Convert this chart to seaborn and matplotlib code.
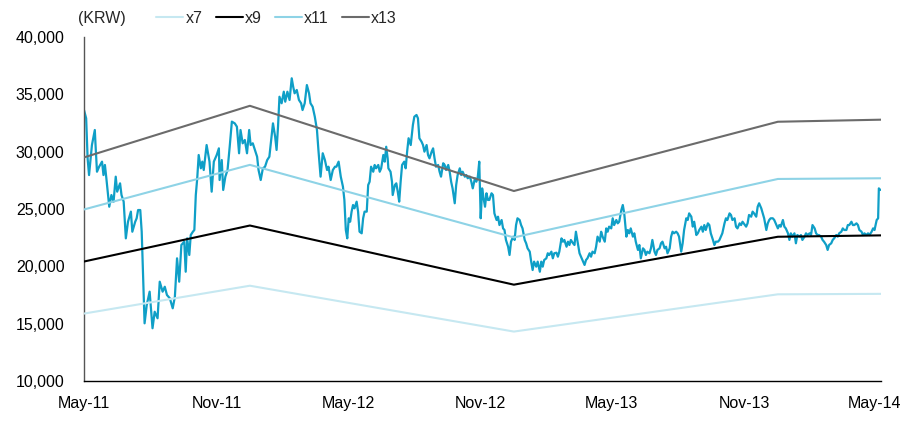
import pandas as pd
import matplotlib
matplotlib.use('Agg')
import matplotlib.pyplot as plt
import matplotlib.dates as mdates
from matplotlib.ticker import FuncFormatter
import seaborn as sns

# PER band lines (KRW) at the EPS change dates
band_dates = ['2011-05-01', '2011-12-17', '2012-12-17', '2013-12-18', '2014-05-10']
x7 = [15880, 18310, 14310, 17560, 17600]
x9 = [20420, 23560, 18400, 22580, 22700]
x11 = [24960, 28850, 22520, 27620, 27680]
x13 = [29500, 34000, 26570, 32610, 32790]
band_names = ['x7', 'x9', 'x11', 'x13']
band_colors = ['#c6e8f1', '#000000', '#8ed3e6', '#6b6b6b']

# share price: (days since 2011-05-01, close in KRW)
start_date = '2011-05-01'
price_points = [
    (0, 33630), (3, 32910), (5, 29420), (7, 27960), (11, 30580), (15, 31890), (16, 30580),
    (18, 28250), (21, 28690), (25, 29130), (27, 27960), (29, 28840), (31, 27680), (35, 25200),
    (38, 26220), (41, 25640), (44, 27820), (46, 26510), (50, 27240), (52, 26220), (55, 25640),
    (58, 22440), (61, 23890), (65, 24770), (67, 23020), (71, 23890), (73, 24190), (75, 24910),
    (78, 24910), (80, 23020), (82, 18960), (84, 15030), (87, 16630), (91, 17790), (95, 14600),
    (98, 16040), (102, 15470), (105, 18660), (109, 17790), (112, 18220), (115, 17500),
    (119, 17210), (123, 16340), (126, 17350), (129, 20700), (132, 18660), (135, 21860),
    (139, 22150), (141, 19530), (143, 22440), (146, 20990), (148, 22730), (151, 23020),
    (153, 23170), (155, 26220), (157, 27680), (159, 29710), (162, 28550), (164, 29130),
    (166, 28400), (170, 30580), (174, 29130), (177, 26510), (180, 29130), (184, 29710),
    (187, 30290), (188, 27530), (191, 29270), (193, 26660), (196, 27820), (199, 28400),
    (202, 30430), (205, 32620), (209, 32470), (212, 32180), (215, 29860), (217, 31890),
    (220, 30730), (223, 31020), (226, 29860), (229, 31890), (231, 30580), (234, 30730),
    (237, 30150), (240, 29560), (242, 28400), (245, 27530), (248, 28550), (251, 28690),
    (254, 29270), (257, 29560), (260, 31310), (262, 32470), (265, 31310), (267, 30150),
    (269, 32180), (271, 34790), (274, 34220), (277, 35230), (279, 34360), (282, 35230),
    (285, 34510), (288, 36400), (290, 35670), (292, 35090), (295, 35380), (298, 34510),
    (301, 34220), (303, 33630), (306, 34220), (309, 35810), (312, 35090), (314, 34220),
    (317, 33920), (320, 33050), (323, 31890), (325, 30150), (328, 27820), (331, 29860),
    (334, 29270), (337, 28400), (339, 28690), (342, 27530), (345, 28400), (348, 28690),
    (350, 28690), (353, 29130), (356, 27820), (359, 26950), (361, 25790), (363, 23170),
    (365, 22440), (367, 24190), (369, 23890), (371, 24770), (373, 25350), (375, 25060),
    (378, 25640), (380, 24770), (382, 23020), (385, 22880), (387, 24190), (389, 24770),
    (392, 24770), (394, 27090), (396, 27380), (398, 28690), (401, 28250), (403, 28840),
    (405, 28550), (408, 28840), (410, 28250), (412, 28550), (415, 29710), (417, 29130),
    (419, 30430), (421, 29420), (422, 28550), (425, 28250), (427, 27380), (428, 26220),
    (431, 27090), (433, 27240), (435, 26510), (437, 25640), (439, 27380), (441, 28840),
    (444, 29130), (446, 28550), (448, 30000), (450, 31170), (453, 30580), (456, 32330),
    (458, 33050), (461, 33200), (463, 32910), (465, 31170), (468, 30870), (470, 30580),
    (472, 30000), (475, 30580), (477, 29710), (479, 29420), (482, 30000), (484, 30290),
    (486, 29420), (488, 28690), (491, 28840), (493, 28250), (495, 27820), (498, 28990),
    (500, 28840), (502, 28400), (505, 28840), (507, 28250), (509, 27380), (511, 26800),
    (514, 25500), (516, 27090), (518, 27960), (521, 28550), (523, 27960), (525, 28250),
    (528, 27820), (530, 27960), (532, 27680), (535, 27820), (537, 27380), (539, 26800),
    (542, 27680), (544, 27380), (546, 27820), (548, 29130), (550, 24190), (552, 26800),
    (554, 25930), (556, 25200), (558, 26370), (560, 25790), (562, 25790), (565, 26370),
    (567, 26220), (569, 24620), (572, 24040), (574, 24330), (576, 23600), (579, 24040),
    (581, 23310), (583, 23170), (585, 22300), (588, 21710), (590, 20990), (592, 22150),
    (595, 22590), (597, 22300), (599, 23600), (601, 24190), (604, 24040), (606, 23600),
    (608, 23310), (611, 22300), (613, 22010), (615, 21570), (618, 21280), (620, 20410),
    (622, 19680), (624, 20410), (627, 19970), (629, 20410), (632, 19530), (634, 20410),
    (636, 19970), (638, 20550), (641, 20700), (643, 21140), (645, 20990), (648, 21280),
    (650, 20700), (652, 21140), (655, 21190), (657, 20840), (659, 21280), (662, 22440),
    (664, 22150), (666, 22300), (669, 21710), (671, 22150), (673, 21860), (675, 22300),
    (678, 22010), (680, 21860), (682, 23020), (685, 21860), (687, 21140), (689, 20840),
    (692, 20410), (694, 20120), (696, 20550), (698, 20700), (701, 21140), (703, 20840),
    (705, 21280), (708, 21140), (710, 21710), (712, 22590), (715, 22150), (717, 23020),
    (719, 22590), (722, 22150), (724, 23310), (726, 23020), (728, 23460), (731, 23310),
    (733, 24190), (735, 23600), (738, 24040), (740, 23750), (742, 23890), (745, 24910),
    (747, 25350), (749, 24620), (752, 22590), (754, 23170), (756, 22880), (758, 23310),
    (761, 22590), (763, 22880), (765, 22150), (768, 21430), (770, 21860), (772, 20700),
    (775, 21570), (777, 21430), (779, 20990), (781, 21280), (784, 21140), (786, 21570),
    (788, 22300), (791, 21280), (793, 20990), (795, 21430), (798, 21570), (800, 22010),
    (802, 22150), (805, 21570), (807, 21710), (809, 21140), (812, 21570), (814, 22590),
    (816, 23020), (818, 22880), (821, 23020), (823, 22880), (825, 22590), (828, 21280),
    (830, 22010), (832, 23170), (835, 24190), (837, 24040), (839, 24620), (842, 24330),
    (844, 23460), (846, 23890), (849, 22730), (851, 22880), (853, 23170), (856, 23460),
    (858, 23020), (860, 23600), (862, 23170), (865, 23750), (867, 23600), (869, 22880),
    (872, 22300), (874, 21860), (876, 22150), (879, 22150), (881, 22300), (883, 22590),
    (885, 22880), (888, 23750), (890, 24190), (892, 24040), (895, 24620), (897, 24480),
    (899, 24040), (902, 24190), (904, 23460), (906, 23310), (909, 23750), (911, 23600),
    (913, 23890), (918, 23460), (920, 23750), (922, 24480), (925, 24330), (927, 24770),
    (929, 24620), (932, 24330), (934, 25200), (936, 25500), (939, 25060), (941, 24620),
    (943, 24190), (946, 23170), (948, 23750), (950, 24040), (952, 24190), (955, 24190),
    (957, 24040), (959, 23750), (962, 23310), (964, 23600), (966, 23460), (969, 24040),
    (971, 23460), (973, 23310), (976, 22880), (978, 22300), (980, 22880), (982, 22590),
    (985, 22880), (987, 22010), (989, 22730), (992, 22590), (994, 22730), (996, 22300),
    (999, 22590), (1001, 22880), (1003, 22730), (1006, 22880), (1008, 22730), (1010, 23600),
    (1013, 23310), (1015, 22880), (1017, 22730), (1019, 22730), (1022, 22590), (1024, 22300),
    (1026, 22150), (1029, 21860), (1031, 21430), (1033, 21860), (1036, 22010), (1038, 22300),
    (1040, 22440), (1043, 22730), (1045, 22590), (1047, 22880), (1050, 23020), (1052, 23310),
    (1054, 23170), (1057, 23170), (1059, 23600), (1061, 23600), (1064, 23890), (1066, 23600),
    (1068, 23600), (1071, 23750), (1073, 23600), (1075, 23170), (1078, 23020), (1080, 22730),
    (1082, 22880), (1085, 22730), (1087, 22880), (1089, 22730), (1092, 23020), (1094, 23310),
    (1096, 23170), (1099, 24040), (1101, 24190), (1102, 26800), (1104, 26660),
]
price_color = '#0f9fc7'
x_ticks = pd.date_range('2011-05-01', '2014-05-01', freq='6MS')
y_ticks = [10000, 15000, 20000, 25000, 30000, 35000, 40000]

sns.set_style('white')
plt.rcParams['font.family'] = ['Liberation Sans', 'DejaVu Sans']
plt.rcParams['font.size'] = 11.5

# tidy frames for seaborn
price_df = pd.DataFrame(price_points, columns=['day', 'price'])
price_df['date'] = pd.Timestamp(start_date) + pd.to_timedelta(price_df['day'], unit='D')

bands = pd.DataFrame({'date': pd.to_datetime(band_dates), 'x7': x7, 'x9': x9, 'x11': x11, 'x13': x13})
bands_long = bands.melt(id_vars='date', var_name='band', value_name='value')

fig = plt.figure(figsize=(9.16, 4.23), dpi=100)
ax = fig.add_axes([0.0917, 0.0993, 0.8701, 0.8132])

sns.lineplot(data=price_df, x='date', y='price', color=price_color, linewidth=1.6,
             legend=False, ax=ax, zorder=2)
sns.lineplot(data=bands_long, x='date', y='value', hue='band', hue_order=band_names,
             palette=dict(zip(band_names, band_colors)), linewidth=1.5, ax=ax, zorder=3)

ax.set_xlim(pd.Timestamp(start_date), pd.Timestamp('2014-05-10'))
ax.set_ylim(10000, 40000)
ax.set_xticks(x_ticks)
ax.xaxis.set_major_formatter(mdates.DateFormatter('%b-%y'))
ax.set_yticks(y_ticks)
ax.yaxis.set_major_formatter(FuncFormatter(lambda v, p: f'{v:,.0f}'))
ax.set_xlabel('')
ax.set_ylabel('')

for s in ['top', 'right']:
    ax.spines[s].set_visible(False)
ax.spines['left'].set_color('#555555')
ax.spines['bottom'].set_color('#000000')
ax.spines['left'].set_linewidth(1.0)
ax.spines['bottom'].set_linewidth(1.0)
ax.tick_params(axis='y', direction='in', length=4, width=1, color='#555555', pad=14,
               labelsize=11.5, labelcolor='#000000')
ax.tick_params(axis='x', direction='in', length=5, width=1, color='#000000', pad=11,
               labelsize=11.5, labelcolor='#000000')

handles, labels = ax.get_legend_handles_labels()
ax.legend(handles, labels, loc='center', bbox_to_anchor=(0.302, 0.957),
          bbox_transform=fig.transFigure, ncol=4, frameon=False, fontsize=11.5,
          handlelength=1.7, handletextpad=0.15, columnspacing=0.8)

fig.text(0.0855, 0.957, '(KRW)', fontsize=11.5, ha='left', va='center')

fig.savefig('out.png', dpi=100)
